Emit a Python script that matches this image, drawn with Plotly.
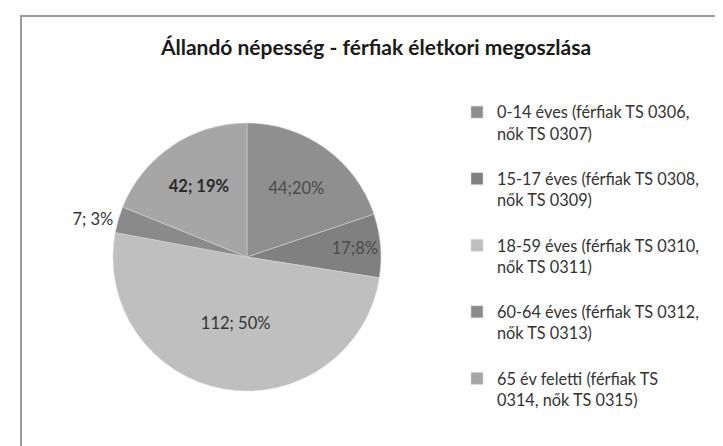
import plotly.graph_objects as go

categories = [
    "0-14 éves (férfiak TS 0306,<br>nők TS 0307)<br> ",
    "15-17 éves (férfiak TS 0308,<br>nők TS 0309)<br> ",
    "18-59 éves (férfiak TS 0310,<br>nők TS 0311)<br> ",
    "60-64 éves (férfiak TS 0312,<br>nők TS 0313)<br> ",
    "65 év feletti (férfiak TS<br>0314, nők TS 0315)<br> ",
]
values = [44, 17, 112, 7, 42]
colors = ["#8f8f8f", "#808080", "#bfbfbf", "#8a8a8a", "#a6a6a6"]
templates = [
    "%{value};%{percent:.0%}",
    "%{value};%{percent:.0%}",
    "%{value}; %{percent:.0%}",
    "%{value}; %{percent:.0%}",
    "<b>%{value}; %{percent:.0%}</b>",
]
text_colors = ["#4a4a4a", "#4a4a4a", "#333333", "#333333", "#2a2a2a"]
positions = ["inside", "inside", "inside", "outside", "inside"]
title_text = "Állandó népesség - férfiak életkori megoszlása"

W, H = 723, 446
cx, cy, r = 239, 249, 134

fig = go.Figure(go.Pie(
    labels=categories,
    values=values,
    sort=False,
    direction="clockwise",
    rotation=0,
    marker=dict(colors=colors, line=dict(color="#d9d9d9", width=0.5)),
    texttemplate=templates,
    textposition=positions,
    insidetextorientation="horizontal",
    textfont=dict(family="Lato", size=16.5, color=text_colors),
    domain=dict(x=[(cx - r) / W, (cx + r) / W], y=[(H - cy - r) / H, (H - cy + r) / H]),
    hoverinfo="label+value+percent",
))

fig.update_layout(
    width=W, height=H,
    margin=dict(l=0, r=0, t=0, b=0),
    paper_bgcolor="white",
    font=dict(family="Lato", color="#333333"),
    title=dict(text="<b>" + title_text + "</b>", x=368 / W, xanchor="center",
               y=1 - 40 / H, yanchor="middle",
               font=dict(family="Lato", size=21, color="#1a1a1a")),
    legend=dict(x=449 / W, xanchor="left", y=1 - 87 / H, yanchor="top",
                valign="top", font=dict(family="Lato", size=16.3, color="#333333"),
                bgcolor="rgba(0,0,0,0)"),
    showlegend=True,
    shapes=[dict(type="rect", xref="paper", yref="paper",
                 x0=13 / W, x1=1.05, y0=-0.05, y1=1 - 8 / H,
                 line=dict(color="#9a9a9a", width=2))],
)

fig.write_html("out.html")
